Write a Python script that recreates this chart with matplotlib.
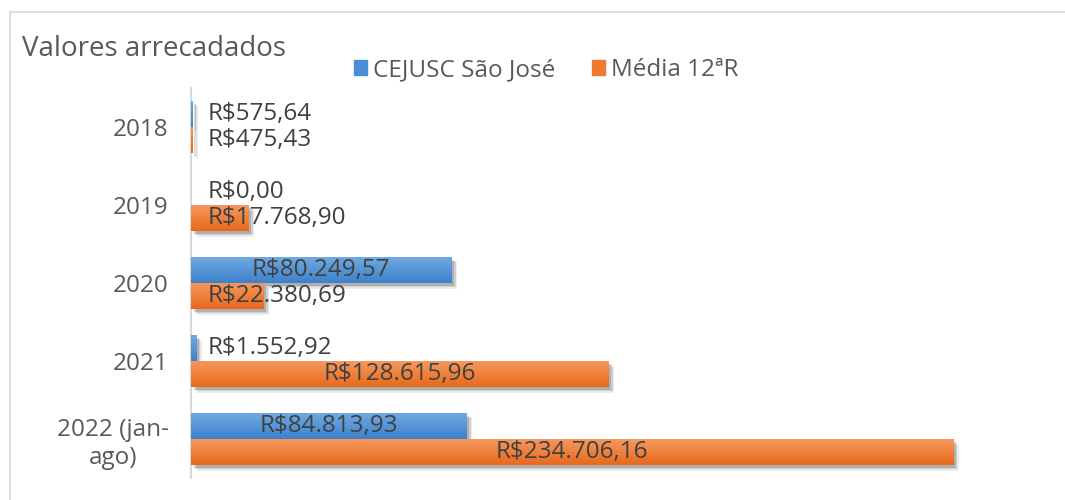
import matplotlib
matplotlib.use("Agg")
import matplotlib.pyplot as plt
import matplotlib.patheffects as pe
import numpy as np
from matplotlib.colors import LinearSegmentedColormap
from matplotlib.lines import Line2D

categories = ["2018", "2019", "2020", "2021", "2022 (jan-\nago)"]
cejusc = [575.64, 0.00, 80249.57, 1552.92, 84813.93]
media = [475.43, 17768.90, 22380.69, 128615.96, 234706.16]
series_names = ["CEJUSC São José", "Média 12ªR"]

plt.rcParams['font.family'] = ['Open Sans', 'DejaVu Sans']


def brl(v):
    s = f"{v:,.2f}"
    s = s.replace(",", "X").replace(".", ",").replace("X", ".")
    return "R$" + s


fig = plt.figure(figsize=(10.65, 5), dpi=100)
ax = fig.add_axes([191/1065, 22/500, 849/1065, 390/500])

# outer chart border (only left and top visible in the crop)
fig.add_artist(Line2D([10/1065, 10/1065], [0, 1 - 12/500], color="#d9d9d9", lw=1.2))
fig.add_artist(Line2D([10/1065, 1], [1 - 12/500, 1 - 12/500], color="#d9d9d9", lw=1.2))

h = 0.335
y = np.arange(len(categories))
blue_cmap = LinearSegmentedColormap.from_list("b", ["#72aae0", "#3d82cc"])
orange_cmap = LinearSegmentedColormap.from_list("o", ["#f59a62", "#e8691a"])

shadow = [pe.SimplePatchShadow(offset=(4, -4), shadow_rgbFace="#000000", alpha=0.08),
          pe.SimplePatchShadow(offset=(3, -3), shadow_rgbFace="#000000", alpha=0.12),
          pe.SimplePatchShadow(offset=(2, -2), shadow_rgbFace="#000000", alpha=0.15),
          pe.Normal()]

b1 = ax.barh(y - h/2, cejusc, height=h, color="#4a8fd5", path_effects=shadow, zorder=2)
b2 = ax.barh(y + h/2, media, height=h, color="#ee7a30", path_effects=shadow, zorder=2)

grad = np.linspace(0, 1, 100).reshape(-1, 1)
for bars, cmap in ((b1, blue_cmap), (b2, orange_cmap)):
    for p in bars:
        x0, y0, w, hh = p.get_x(), p.get_y(), p.get_width(), p.get_height()
        if w <= 0:
            continue
        im = ax.imshow(grad, cmap=cmap, extent=(x0, x0 + w, y0 + hh, y0),
                       aspect="auto", zorder=3, interpolation="bilinear")
        im.set_clip_path(p)

ax.set_xlim(0, 261500)
ax.set_ylim(len(categories) - 0.5, -0.5)

# data labels
for bars, vals in ((b1, cejusc), (b2, media)):
    for p, v in zip(bars, vals):
        yc = p.get_y() + p.get_height()/2
        if v > 60000:
            ax.text(v/2, yc, brl(v), ha="center", va="center", fontsize=17.5,
                    color="#404040", zorder=5)
        else:
            ax.text(5000, yc, brl(v), ha="left", va="center", fontsize=17.5,
                    color="#404040", zorder=5)

ax.set_yticks(y)
ax.set_yticklabels(categories, fontsize=17.5, color="#595959", multialignment="center")
ax.tick_params(axis="y", length=0, pad=16)
ax.set_xticks([])
for s in ("top", "right", "bottom"):
    ax.spines[s].set_visible(False)
ax.spines["left"].set_color("#d9d9d9")
ax.spines["left"].set_linewidth(1.5)

fig.text(22/1065, 1 - 49/500, "Valores arrecadados", fontsize=20, color="#595959",
         va="center", ha="left")

handles = [plt.Rectangle((0, 0), 1, 1, color="#4a8fd5"),
           plt.Rectangle((0, 0), 1, 1, color="#ee7a30")]
fig.legend(handles, series_names, loc="center", bbox_to_anchor=(546/1065, 1 - 70/500),
           ncol=2, frameon=False, fontsize=17.5, labelcolor="#595959",
           handlelength=0.55, handleheight=0.55, handletextpad=0.25, columnspacing=1.5)

fig.savefig("out.png", dpi=100)
